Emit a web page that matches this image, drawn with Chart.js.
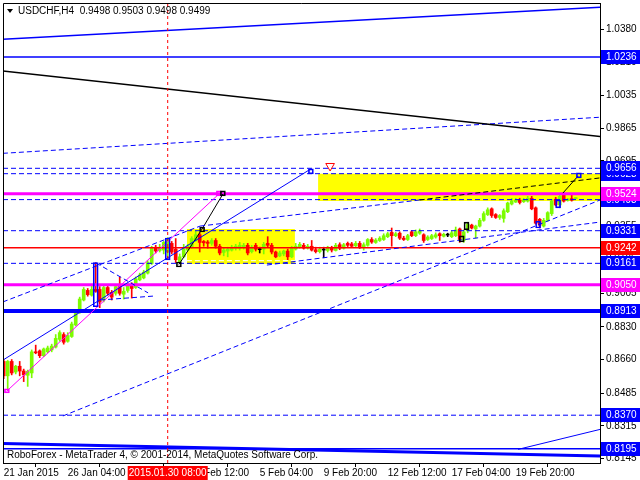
<!DOCTYPE html>
<html>
<head>
<meta charset="utf-8">
<script src="https://cdn.jsdelivr.net/npm/chart.js@4.4.1/dist/chart.umd.min.js"></script>
<style>
  body { margin: 0; background: #fff; }
</style>
</head>
<body>
<canvas id="priceChart" width="640" height="480"></canvas>
<script>
// USDCHF H4 candles, bar index 0 = 21 Jan 2015 12:00
const opens = [0.8650,0.8575,0.8650,0.8595,0.8625,0.8600,0.8578,0.8590,0.8700,0.8705,0.8680,0.8700,0.8710,0.8725,0.8765,0.8790,0.8755,0.8780,0.8840,0.8905,
  0.8970,0.9020,0.8995,0.9025,0.9025,0.8970,0.9035,0.9010,0.9005,0.9040,0.9000,0.9020,0.9045,0.9035,0.9075,0.9085,0.9110,0.9160,0.9245,0.9228,
  0.9230,0.9220,0.9265,0.9235,0.9170,0.9195,0.9230,0.9245,0.9280,0.9310,0.9275,0.9272,0.9265,0.9280,0.9250,0.9218,0.9225,0.9230,0.9240,0.9240,
  0.9245,0.9255,0.9222,0.9255,0.9232,0.9235,0.9265,0.9255,0.9220,0.9200,0.9210,0.9225,0.9195,0.9235,0.9245,0.9255,0.9240,0.9250,0.9232,0.9222,
  0.9230,0.9228,0.9242,0.9228,0.9258,0.9240,0.9265,0.9262,0.9252,0.9265,0.9245,0.9255,0.9285,0.9270,0.9280,0.9285,0.9300,0.9322,0.9305,0.9318,
  0.9292,0.9285,0.9325,0.9305,0.9318,0.9310,0.9285,0.9290,0.9298,0.9315,0.9302,0.9308,0.9300,0.9305,0.9340,0.9280,0.9330,0.9360,0.9340,0.9355,
  0.9385,0.9415,0.9445,0.9415,0.9400,0.9395,0.9430,0.9470,0.9480,0.9490,0.9482,0.9485,0.9500,0.9450,0.9390,0.9355,0.9385,0.9420,0.9495,0.9465,
  0.9515,0.9488,0.9498,0.9498];
const highs = [0.8660,0.8655,0.8660,0.8630,0.8650,0.8610,0.8605,0.8710,0.8735,0.8710,0.8720,0.8730,0.8740,0.8790,0.8810,0.8800,0.8800,0.8855,0.8910,0.8985,
  0.9035,0.9030,0.9045,0.9165,0.9040,0.9050,0.9045,0.9020,0.9050,0.9090,0.9035,0.9055,0.9060,0.9090,0.9110,0.9125,0.9175,0.9250,0.9255,0.9260,
  0.9275,0.9295,0.9275,0.9290,0.9210,0.9260,0.9260,0.9300,0.9330,0.9320,0.9280,0.9280,0.9290,0.9290,0.9260,0.9240,0.9245,0.9255,0.9260,0.9270,
  0.9265,0.9265,0.9255,0.9265,0.9245,0.9270,0.9300,0.9265,0.9225,0.9225,0.9230,0.9235,0.9250,0.9265,0.9270,0.9265,0.9260,0.9280,0.9245,0.9245,
  0.9245,0.9250,0.9250,0.9265,0.9268,0.9265,0.9272,0.9270,0.9275,0.9275,0.9268,0.9290,0.9295,0.9290,0.9300,0.9315,0.9322,0.9345,0.9322,0.9325,
  0.9302,0.9312,0.9332,0.9335,0.9340,0.9315,0.9305,0.9312,0.9320,0.9320,0.9318,0.9318,0.9330,0.9350,0.9345,0.9335,0.9375,0.9365,0.9360,0.9395,
  0.9430,0.9450,0.9450,0.9420,0.9415,0.9445,0.9480,0.9500,0.9500,0.9500,0.9500,0.9510,0.9510,0.9455,0.9395,0.9395,0.9430,0.9495,0.9505,0.9520,
  0.9530,0.9500,0.9515,0.9503];
const lows = [0.8560,0.8505,0.8580,0.8585,0.8575,0.8545,0.8520,0.8565,0.8690,0.8670,0.8675,0.8695,0.8700,0.8720,0.8755,0.8740,0.8750,0.8775,0.8835,0.8900,
  0.8965,0.8990,0.8990,0.9010,0.8930,0.8960,0.8995,0.8970,0.8995,0.8995,0.8975,0.9010,0.8980,0.9030,0.9070,0.9080,0.9105,0.9155,0.9215,0.9220,
  0.9210,0.9185,0.9210,0.9165,0.9160,0.9190,0.9225,0.9240,0.9275,0.9220,0.9250,0.9240,0.9255,0.9240,0.9205,0.9200,0.9195,0.9225,0.9230,0.9230,
  0.9235,0.9205,0.9215,0.9225,0.9215,0.9210,0.9245,0.9210,0.9190,0.9195,0.9200,0.9180,0.9190,0.9230,0.9240,0.9235,0.9235,0.9225,0.9215,0.9215,
  0.9190,0.9220,0.9220,0.9225,0.9232,0.9235,0.9248,0.9245,0.9248,0.9238,0.9230,0.9250,0.9265,0.9265,0.9275,0.9280,0.9295,0.9250,0.9300,0.9285,
  0.9280,0.9280,0.9300,0.9300,0.9312,0.9270,0.9280,0.9285,0.9292,0.9280,0.9298,0.9300,0.9295,0.9300,0.9270,0.9270,0.9320,0.9340,0.9293,0.9350,
  0.9380,0.9410,0.9400,0.9395,0.9390,0.9375,0.9425,0.9465,0.9478,0.9470,0.9478,0.9480,0.9440,0.9365,0.9345,0.9350,0.9380,0.9410,0.9460,0.9450,
  0.9480,0.9485,0.9485,0.9498];
const closes = [0.8575,0.8650,0.8590,0.8625,0.8600,0.8580,0.8598,0.8700,0.8695,0.8680,0.8715,0.8720,0.8730,0.8770,0.8800,0.8750,0.8785,0.8845,0.8900,0.8975,
  0.9025,0.8998,0.9025,0.9015,0.8960,0.9035,0.9005,0.8985,0.9040,0.9005,0.9015,0.9045,0.9030,0.9080,0.9100,0.9115,0.9165,0.9240,0.9225,0.9245,
  0.9270,0.9285,0.9220,0.9180,0.9195,0.9235,0.9250,0.9290,0.9310,0.9270,0.9268,0.9265,0.9280,0.9250,0.9215,0.9230,0.9235,0.9245,0.9250,0.9255,
  0.9255,0.9215,0.9245,0.9235,0.9232,0.9260,0.9255,0.9220,0.9195,0.9215,0.9225,0.9195,0.9240,0.9250,0.9260,0.9240,0.9250,0.9230,0.9222,0.9235,
  0.9230,0.9245,0.9230,0.9255,0.9240,0.9258,0.9255,0.9250,0.9265,0.9245,0.9258,0.9285,0.9272,0.9282,0.9292,0.9305,0.9315,0.9305,0.9315,0.9292,
  0.9285,0.9305,0.9305,0.9325,0.9330,0.9280,0.9298,0.9305,0.9310,0.9305,0.9312,0.9308,0.9320,0.9335,0.9285,0.9325,0.9365,0.9345,0.9355,0.9385,
  0.9420,0.9440,0.9410,0.9400,0.9410,0.9435,0.9475,0.9485,0.9490,0.9478,0.9492,0.9500,0.9445,0.9370,0.9360,0.9385,0.9425,0.9485,0.9465,0.9510,
  0.9485,0.9495,0.9490,0.9499];

// axis ticks
const yTicks = [1.0380, 1.0210, 1.0035, 0.9865, 0.9695, 0.9525, 0.9355, 0.9185, 0.9005, 0.8830, 0.8660, 0.8485, 0.8315, 0.8145];
const xTickBars = [0, 16, 32, 48, 64, 80, 96, 112, 128];
const xTickLabels = ['21 Jan 2015', '26 Jan 04:00', '28 Jan 20:00', '2 Feb 12:00', '5 Feb 04:00', '9 Feb 20:00', '12 Feb 12:00', '17 Feb 04:00', '19 Feb 20:00'];

// horizontal levels and their price tags
const levels = [1.0236, 0.9656, 0.9628, 0.9524, 0.9493, 0.9331, 0.9242, 0.9161, 0.9050, 0.8913, 0.8370, 0.8195];
const tagOrder = [1.0236, 0.9628, 0.9656, 0.9493, 0.9524, 0.9331, 0.9242, 0.9161, 0.9050, 0.8913, 0.8370, 0.8195];

// trend lines as [bar, price] pairs
const topChannel = [[-0.2, 1.0328], [149.1, 1.0495]];
const blackTrend = [[-0.2, 1.0163], [149.1, 0.9821]];
const upperDashed = [[-0.2, 0.9734], [149.1, 0.9922]];
const bottomThick = [[-0.2, 0.8222], [149.1, 0.8157]];
const bottomRise = [[128.6, 0.8192], [149.1, 0.8296]];
const longDashed = [[14.8, 0.8366], [149.1, 0.9491]];
const midDashed = [[65.8, 0.9152], [149.1, 0.9376]];
const firstDashed = [[-0.2, 0.8960], [49.1, 0.9355]];
const blueUpper = [[49.1, 0.9355], [104, 0.9491]];
const blackDashed = [[104, 0.9491], [149.1, 0.9606]];
const spikeDashed = [[23.1, 0.9163], [36.1, 0.9007]];
const baseDashed = [[24.1, 0.8970], [37.8, 0.8991]];
const blueRise = [[-0.2, 0.8657], [76.8, 0.9653]];
const magentaRise = [[0.8, 0.8496], [53.8, 0.9522]];
const blackWave = [[43.8, 0.9155], [49.6, 0.9340], [54.8, 0.9522]];
const blackLast = [[139.8, 0.9527], [143.6, 0.9616]];
const boxOne = { from: 45.8, to: 72.8, top: 0.9340, bottom: 0.9158 };
const boxTwo = { from: 78.6, to: 149.1, top: 0.9627, bottom: 0.9486 };
const crossBar = 41;

// wave markers: [bar, low, high]
const blueMarks = [[23, 0.8935, 0.9165], [41, 0.9179, 0.9293], [76.8, 0.9627, 0.9653], [133.6, 0.9345, 0.9381], [138.6, 0.9450, 0.9491], [143.8, 0.9606, 0.9632]];
const blackMarks = [[43.8, 0.9142, 0.9168], [49.6, 0.9324, 0.9350], [54.8, 0.9512, 0.9538], [114.5, 0.9272, 0.9304], [115.7, 0.9335, 0.9376]];
const magentaMarks = [[0.8, 0.8486, 0.8507], [53.8, 0.9512, 0.9538]];

const X_MIN = -0.175, X_MAX = 149.075, Y_MIN = 0.8121, Y_MAX = 1.0517;
const BLUE = '#0000ff', MAGENTA = '#ff00ff', RED = '#ff0000', BULL = '#7cfc00';

const candleColor = closes.map((c, i) => c > opens[i] ? BULL : (c < opens[i] ? RED : '#000000'));

function seg(points, color, width, dash, order) {
  return {
    type: 'line',
    data: points.map(p => ({ x: p[0], y: p[1] })),
    borderColor: color,
    borderWidth: width,
    borderDash: dash || [],
    pointRadius: 0,
    fill: false,
    tension: 0,
    order: order || 5
  };
}

function box(b) {
  return {
    type: 'line',
    data: [{ x: b.from, y: b.top }, { x: b.to, y: b.top }],
    borderWidth: 0,
    borderColor: 'rgba(0,0,0,0)',
    backgroundColor: '#ffff00',
    pointRadius: 0,
    fill: { value: b.bottom },
    order: 50
  };
}

function marks(list, color) {
  return {
    type: 'bar',
    data: list.map(m => ({ x: m[0], y: [m[1], m[2]] })),
    backgroundColor: 'rgba(0,0,0,0)',
    borderColor: color,
    borderWidth: 1,
    borderSkipped: false,
    barThickness: 5,
    grouped: false,
    order: 1
  };
}

const levelStyle = {
  '1.0236': [BLUE, 1.5, []], '0.9656': [BLUE, 1, [5, 3]], '0.9628': [BLUE, 1, [5, 3]],
  '0.9524': [MAGENTA, 3, []], '0.9493': [BLUE, 1, [5, 3]], '0.9331': [BLUE, 1, [5, 3]],
  '0.9242': [RED, 1.5, []], '0.9161': [BLUE, 1, [5, 3]], '0.9050': [MAGENTA, 3, []],
  '0.8913': [BLUE, 4, []], '0.8370': [BLUE, 1, [5, 3]], '0.8195': [BLUE, 1.5, []]
};
const tagColor = { '0.9524': MAGENTA, '0.9050': MAGENTA, '0.9242': RED };

const datasets = [
  box(boxOne),
  box(boxTwo),
  seg([[boxOne.from, 0.9175], [boxOne.to, 0.9175]], '#ffffff', 1, [5, 3], 40),
  // wicks then bodies
  {
    type: 'bar',
    data: highs.map((h, i) => ({ x: i, y: [lows[i], h] })),
    backgroundColor: candleColor,
    barThickness: 1,
    grouped: false,
    order: 20
  },
  {
    type: 'bar',
    data: opens.map((o, i) => ({ x: i, y: [o, closes[i]] })),
    backgroundColor: candleColor,
    barThickness: 3,
    minBarLength: 1,
    grouped: false,
    order: 19
  }
];

levels.forEach(v => {
  const s = levelStyle[v.toFixed(4)];
  datasets.push(seg([[X_MIN, v], [X_MAX, v]], s[0], s[1], s[2], 10));
});

datasets.push(
  seg(topChannel, BLUE, 1.5),
  seg(blackTrend, '#000000', 1.5),
  seg(upperDashed, BLUE, 1, [5, 3]),
  seg(bottomThick, BLUE, 3),
  seg(bottomRise, BLUE, 1),
  seg(longDashed, BLUE, 1, [5, 3]),
  seg(midDashed, BLUE, 1, [5, 3]),
  seg(firstDashed, BLUE, 1, [5, 3]),
  seg(blueUpper, BLUE, 1, [5, 3]),
  seg(blackDashed, '#000000', 1, [5, 3]),
  seg(spikeDashed, BLUE, 1, [5, 3]),
  seg(baseDashed, BLUE, 1, [5, 3]),
  seg(blueRise, BLUE, 1),
  seg(magentaRise, MAGENTA, 1),
  seg(blackWave, '#000000', 1),
  seg(blackLast, '#000000', 1),
  seg([[crossBar, Y_MIN], [crossBar, Y_MAX]], RED, 1, [3, 3], 2),
  marks(blueMarks, BLUE),
  marks(blackMarks, '#000000'),
  marks(magentaMarks, MAGENTA),
  {
    type: 'line',
    data: [{ x: 81.6, y: 0.9668 }],
    showLine: false,
    pointStyle: 'triangle',
    rotation: 180,
    pointRadius: 5,
    pointBorderColor: RED,
    pointBackgroundColor: '#ffffff',
    pointBorderWidth: 1,
    order: 1
  }
);

const overlay = {
  id: 'overlay',
  afterDraw(chart) {
    const { ctx, chartArea: a, scales: { x, y } } = chart;
    ctx.save();
    ctx.strokeStyle = '#000';
    ctx.lineWidth = 1;
    ctx.beginPath();
    ctx.moveTo(a.left + 0.5, a.bottom);
    ctx.lineTo(a.left + 0.5, a.top + 0.5);
    ctx.lineTo(a.right, a.top + 0.5);
    ctx.stroke();

    ctx.font = '10px "Liberation Sans", Arial, sans-serif';
    ctx.textBaseline = 'middle';
    tagOrder.forEach(v => {
      const py = Math.round(y.getPixelForValue(v));
      ctx.fillStyle = tagColor[v.toFixed(4)] || BLUE;
      ctx.fillRect(a.right + 1, py - 7, 40, 14);
      ctx.fillStyle = '#ffffff';
      ctx.fillText(v.toFixed(4), a.right + 6, py);
    });

    // crosshair time tag
    const cx = x.getPixelForValue(crossBar);
    ctx.fillStyle = RED;
    ctx.fillRect(cx - 40, a.bottom + 3, 80, 14);
    ctx.fillStyle = '#ffffff';
    ctx.textAlign = 'center';
    ctx.fillText('2015.01.30 08:00', cx, a.bottom + 10);

    // header and footer text
    ctx.textAlign = 'left';
    ctx.fillStyle = '#000';
    ctx.beginPath();
    ctx.moveTo(7, 9); ctx.lineTo(13, 9); ctx.lineTo(10, 13); ctx.closePath();
    ctx.fill();
    ctx.fillText('USDCHF,H4  0.9498 0.9503 0.9498 0.9499', 18, 11);
    ctx.fillText('RoboForex - MetaTrader 4, \u00a9 2001-2014, MetaQuotes Software Corp.', 7, 455);
    ctx.restore();
  }
};

function noPad(s) {
  s.paddingTop = 0; s.paddingBottom = 0; s.paddingLeft = 0; s.paddingRight = 0;
}

new Chart(document.getElementById('priceChart').getContext('2d'), {
  type: 'bar',
  data: { datasets: datasets },
  options: {
    responsive: false,
    animation: false,
    layout: { autoPadding: false, padding: { left: 3, top: 3, right: 0, bottom: 0 } },
    plugins: { legend: { display: false }, tooltip: { enabled: false } },
    scales: {
      x: {
        type: 'linear',
        min: X_MIN,
        max: X_MAX,
        offset: false,
        afterBuildTicks: s => { s.ticks = xTickBars.map(v => ({ value: v })); },
        afterFit: s => { s.height = 17; noPad(s); },
        grid: { drawOnChartArea: false, tickLength: 4, color: '#000' },
        border: { display: true, color: '#000' },
        ticks: {
          align: 'start',
          padding: 0,
          maxRotation: 0,
          autoSkip: false,
          color: '#000',
          font: { family: 'Liberation Sans', size: 10 },
          callback: v => xTickLabels[xTickBars.indexOf(v)]
        }
      },
      y: {
        position: 'right',
        min: Y_MIN,
        max: Y_MAX,
        afterBuildTicks: s => { s.ticks = yTicks.map(v => ({ value: v })); },
        afterFit: s => { s.width = 40; noPad(s); },
        grid: { drawOnChartArea: false, tickLength: 4, color: '#000' },
        border: { display: true, color: '#000' },
        ticks: {
          padding: 2,
          color: '#000',
          font: { family: 'Liberation Sans', size: 10 },
          callback: v => v.toFixed(4)
        }
      }
    }
  },
  plugins: [overlay]
});
</script>
</body>
</html>
